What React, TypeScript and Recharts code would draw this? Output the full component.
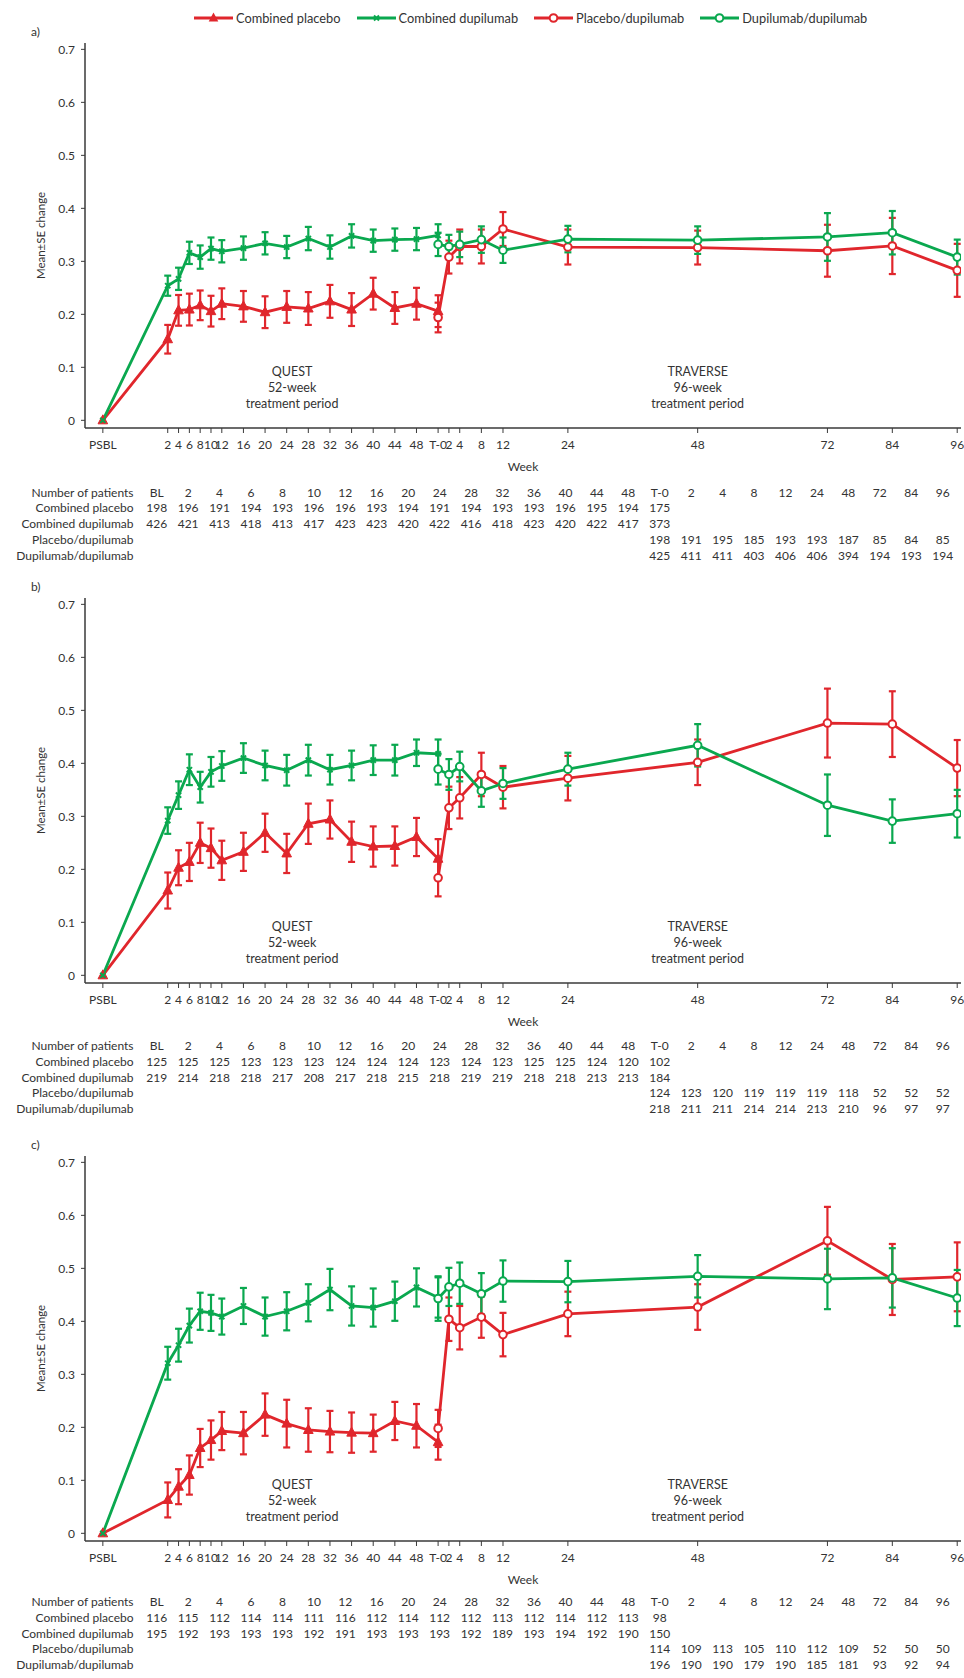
import React from 'react';
import { LineChart, Line, XAxis, YAxis, ErrorBar, ReferenceDot, Label } from 'recharts';

const RED = '#e0262c';
const GREEN = '#0aa84f';
const TEXT = '#333333';
const AXIS = '#3a3a3a';
const FONT = 'Lato, "Noto Sans", sans-serif';

// ---------- categories ----------
const questWeeks = ['PSBL', '2', '4', '6', '8', '10', '12', '16', '20', '24', '28', '32', '36', '40', '44', '48', 'T-0'];
const traverseWeeks = ['T-0', '2', '4', '8', '12', '24', '48', '72', '84', '96'];
const tableColumns = ['BL', '2', '4', '6', '8', '10', '12', '16', '20', '24', '28', '32', '36', '40', '44', '48', 'T-0', '2', '4', '8', '12', '24', '48', '72', '84', '96'];
const seriesNames = ['Combined placebo', 'Combined dupilumab', 'Placebo/dupilumab', 'Dupilumab/dupilumab'];
const yTicks = [0, 0.1, 0.2, 0.3, 0.4, 0.5, 0.6, 0.7];

// ---------- panel a ----------
const aCombinedPlacebo = [0, 0.153, 0.2075, 0.209, 0.217, 0.206, 0.22, 0.215, 0.204, 0.214, 0.211, 0.2245, 0.209, 0.239, 0.212, 0.22, 0.206];
const aCombinedPlaceboSE = [0, 0.027, 0.029, 0.03, 0.028, 0.029, 0.029, 0.029, 0.03, 0.03, 0.031, 0.031, 0.031, 0.03, 0.03, 0.03, 0.03];
const aCombinedDupilumab = [0, 0.254, 0.267, 0.316, 0.308, 0.324, 0.319, 0.325, 0.334, 0.327, 0.343, 0.327, 0.348, 0.339, 0.341, 0.342, 0.349];
const aCombinedDupilumabSE = [0, 0.019, 0.021, 0.021, 0.022, 0.021, 0.021, 0.022, 0.021, 0.021, 0.022, 0.022, 0.022, 0.021, 0.021, 0.021, 0.021];
const aPlaceboDupilumab = [0.194, 0.308, 0.328, 0.328, 0.361, 0.327, 0.326, 0.32, 0.329, 0.283];
const aPlaceboDupilumabSE = [0.028, 0.031, 0.032, 0.032, 0.032, 0.033, 0.032, 0.049, 0.053, 0.05];
const aDupilumabDupilumab = [0.332, 0.328, 0.332, 0.341, 0.321, 0.342, 0.34, 0.346, 0.354, 0.308];
const aDupilumabDupilumabSE = [0.022, 0.022, 0.024, 0.025, 0.024, 0.025, 0.026, 0.045, 0.041, 0.033];
const aNCombinedPlacebo = ['198', '196', '191', '194', '193', '196', '196', '193', '194', '191', '194', '193', '193', '196', '195', '194', '175'];
const aNCombinedDupilumab = ['426', '421', '413', '418', '413', '417', '423', '423', '420', '422', '416', '418', '423', '420', '422', '417', '373'];
const aNPlaceboDupilumab = ['198', '191', '195', '185', '193', '193', '187', '85', '84', '85'];
const aNDupilumabDupilumab = ['425', '411', '411', '403', '406', '406', '394', '194', '193', '194'];

// ---------- panel b ----------
const bCombinedPlacebo = [0, 0.16, 0.203, 0.214, 0.25, 0.24, 0.217, 0.233, 0.269, 0.23, 0.286, 0.294, 0.252, 0.243, 0.244, 0.261, 0.22];
const bCombinedPlaceboSE = [0, 0.034, 0.033, 0.036, 0.038, 0.037, 0.037, 0.036, 0.036, 0.037, 0.038, 0.036, 0.038, 0.038, 0.037, 0.036, 0.037];
const bCombinedDupilumab = [0, 0.292, 0.34, 0.388, 0.355, 0.384, 0.395, 0.41, 0.396, 0.387, 0.406, 0.388, 0.396, 0.406, 0.406, 0.42, 0.418];
const bCombinedDupilumabSE = [0, 0.025, 0.026, 0.029, 0.029, 0.028, 0.028, 0.028, 0.028, 0.029, 0.029, 0.028, 0.028, 0.028, 0.029, 0.025, 0.027];
const bPlaceboDupilumab = [0.184, 0.316, 0.335, 0.379, 0.355, 0.372, 0.402, 0.476, 0.474, 0.391];
const bPlaceboDupilumabSE = [0.035, 0.04, 0.039, 0.041, 0.04, 0.042, 0.043, 0.065, 0.062, 0.053];
const bDupilumabDupilumab = [0.389, 0.379, 0.394, 0.348, 0.362, 0.389, 0.434, 0.321, 0.291, 0.305];
const bDupilumabDupilumabSE = [0.029, 0.029, 0.028, 0.03, 0.029, 0.031, 0.04, 0.058, 0.041, 0.045];
const bNCombinedPlacebo = ['125', '125', '125', '123', '123', '123', '124', '124', '124', '123', '124', '123', '125', '125', '124', '120', '102'];
const bNCombinedDupilumab = ['219', '214', '218', '218', '217', '208', '217', '218', '215', '218', '219', '219', '218', '218', '213', '213', '184'];
const bNPlaceboDupilumab = ['124', '123', '120', '119', '119', '119', '118', '52', '52', '52'];
const bNDupilumabDupilumab = ['218', '211', '211', '214', '214', '213', '210', '96', '97', '97'];

// ---------- panel c ----------
const cCombinedPlacebo = [0, 0.063, 0.088, 0.11, 0.161, 0.176, 0.193, 0.189, 0.224, 0.207, 0.195, 0.192, 0.19, 0.189, 0.212, 0.203, 0.172];
const cCombinedPlaceboSE = [0, 0.033, 0.033, 0.037, 0.036, 0.037, 0.036, 0.04, 0.04, 0.045, 0.041, 0.039, 0.038, 0.035, 0.036, 0.041, 0.033];
const cCombinedDupilumab = [0, 0.321, 0.355, 0.392, 0.419, 0.416, 0.409, 0.429, 0.409, 0.419, 0.435, 0.46, 0.429, 0.426, 0.438, 0.464, 0.445];
const cCombinedDupilumabSE = [0, 0.031, 0.031, 0.032, 0.035, 0.034, 0.034, 0.034, 0.036, 0.036, 0.035, 0.039, 0.037, 0.036, 0.037, 0.036, 0.038];
const cPlaceboDupilumab = [0.198, 0.404, 0.388, 0.408, 0.375, 0.414, 0.427, 0.552, 0.479, 0.484];
const cPlaceboDupilumabSE = [0.035, 0.041, 0.041, 0.039, 0.041, 0.042, 0.043, 0.064, 0.067, 0.065];
const cDupilumabDupilumab = [0.443, 0.465, 0.472, 0.452, 0.476, 0.475, 0.485, 0.48, 0.482, 0.444];
const cDupilumabDupilumabSE = [0.042, 0.036, 0.039, 0.039, 0.039, 0.039, 0.04, 0.057, 0.056, 0.053];
const cNCombinedPlacebo = ['116', '115', '112', '114', '114', '111', '116', '112', '114', '112', '112', '113', '112', '114', '112', '113', '98'];
const cNCombinedDupilumab = ['195', '192', '193', '193', '193', '192', '191', '193', '193', '193', '192', '189', '193', '194', '192', '190', '150'];
const cNPlaceboDupilumab = ['114', '109', '113', '105', '110', '112', '109', '52', '50', '50'];
const cNDupilumabDupilumab = ['196', '190', '190', '179', '190', '185', '181', '93', '92', '94'];

// ---------- helpers ----------
function questPos(w: string): number {
  if (w === 'PSBL') return -10;
  if (w === 'T-0') return 52;
  return Number(w);
}
function traversePos(w: string): number {
  return w === 'T-0' ? 52 : 52 + Number(w);
}
const tickItems = [
  ...questWeeks.map((w) => ({ pos: questPos(w), label: w })),
  ...traverseWeeks.slice(1).map((w) => ({ pos: traversePos(w), label: w })),
];
const tickPositions = tickItems.map((t) => t.pos);
const tickLabel = (v: number) => {
  const t = tickItems.find((it) => Math.abs(it.pos - v) < 1e-6);
  return t ? t.label : '';
};

function buildRows(cp: number[], cpSE: number[], cd: number[], cdSE: number[], pd: number[], pdSE: number[], dd: number[], ddSE: number[]) {
  const map = new Map<number, any>();
  questWeeks.forEach((w, i) => {
    const p = questPos(w);
    const r = map.get(p) || { p };
    r.cp = cp[i];
    r.cpErr = cpSE[i] || null;
    r.cd = cd[i];
    r.cdErr = cdSE[i] || null;
    map.set(p, r);
  });
  traverseWeeks.forEach((w, i) => {
    const p = traversePos(w);
    const r = map.get(p) || { p };
    r.pd = pd[i];
    r.pdErr = pdSE[i];
    r.dd = dd[i];
    r.ddErr = ddSE[i];
    map.set(p, r);
  });
  return Array.from(map.values()).sort((a, b) => a.p - b.p);
}

// ---------- markers ----------
const TriangleDot = (props: any) => {
  const { cx, cy, index, value } = props;
  if (cx == null || cy == null || value == null) return <g key={`t-${index}`} />;
  return <polygon key={`t-${index}`} points={`${cx},${cy - 5.5} ${cx - 4.8},${cy + 3.5} ${cx + 4.8},${cy + 3.5}`} fill={RED} stroke={RED} strokeWidth={1} />;
};
const CrossDot = (props: any) => {
  const { cx, cy, index, value } = props;
  if (cx == null || cy == null || value == null) return <g key={`x-${index}`} />;
  const s = 2.6;
  return (
    <g key={`x-${index}`} stroke={GREEN} strokeWidth={2}>
      <line x1={cx - s} y1={cy - s} x2={cx + s} y2={cy + s} />
      <line x1={cx - s} y1={cy + s} x2={cx + s} y2={cy - s} />
    </g>
  );
};
const makeCircleDot = (color: string, prefix: string) => (props: any) => {
  const { cx, cy, index, value } = props;
  if (cx == null || cy == null || value == null) return <g key={`${prefix}-${index}`} />;
  return <circle key={`${prefix}-${index}`} cx={cx} cy={cy} r={3.8} fill="#ffffff" stroke={color} strokeWidth={2} />;
};
const RedCircle = makeCircleDot(RED, 'rc');
const GreenCircle = makeCircleDot(GREEN, 'gc');

const YLabel = (props: any) => {
  const vb = props.viewBox || {};
  const x = vb.x + 15;
  const y = vb.y + vb.height / 2;
  return (
    <text x={x} y={y} transform={`rotate(-90, ${x}, ${y})`} textAnchor="middle" dominantBaseline="central" fill={TEXT} fontSize={11.5} fontFamily={FONT}>
      Mean±SE change
    </text>
  );
};

const periodLabel = (lines: string[]) => (props: any) => {
  const vb = props.viewBox || {};
  const x = vb.x + (vb.width || 0) / 2;
  const y = vb.y + (vb.height || 0) / 2;
  return (
    <text textAnchor="middle" fill={TEXT} fontSize={12.5} fontFamily={FONT}>
      {lines.map((l, i) => (
        <tspan key={i} x={x} y={y + (i - 1) * 16} dominantBaseline="central">
          {l}
        </tspan>
      ))}
    </text>
  );
};

const LegendIcon = ({ color, kind }: { color: string; kind: string }) => (
  <svg width={39} height={12} style={{ display: 'block' }}>
    <line x1={0} y1={6} x2={39} y2={6} stroke={color} strokeWidth={3} />
    {kind === 'tri' && <polygon points="19.5,0.5 14.7,9.5 24.3,9.5" fill={color} />}
    {kind === 'x' && (
      <g stroke={color} strokeWidth={2}>
        <line x1={17} y1={3.5} x2={22} y2={8.5} />
        <line x1={17} y1={8.5} x2={22} y2={3.5} />
      </g>
    )}
    {kind === 'circle' && <circle cx={19.5} cy={6} r={3.8} fill="#fff" stroke={color} strokeWidth={2} />}
  </svg>
);

const legendItems = [
  { name: seriesNames[0], color: RED, kind: 'tri' },
  { name: seriesNames[1], color: GREEN, kind: 'x' },
  { name: seriesNames[2], color: RED, kind: 'circle' },
  { name: seriesNames[3], color: GREEN, kind: 'circle' },
];

const COL0 = 156.7;
const COLW = 31.44;

const PatientTable = ({ top, rows }: { top: number; rows: { label: string; values: string[]; start: number }[] }) => (
  <div style={{ position: 'absolute', left: 0, top, width: 964, fontFamily: FONT, fontSize: 12, color: TEXT }}>
    {rows.map((r, ri) => (
      <React.Fragment key={ri}>
        <div style={{ position: 'absolute', left: 0, width: 133.5, top: ri * 15.75 - 7, textAlign: 'right', lineHeight: '14px', whiteSpace: 'nowrap' }}>{r.label}</div>
        {r.values.map((v, ci) => (
          <div key={ci} style={{ position: 'absolute', left: COL0 + (r.start + ci) * COLW - 16, width: 32, top: ri * 15.75 - 7, textAlign: 'center', lineHeight: '14px' }}>
            {v}
          </div>
        ))}
      </React.Fragment>
    ))}
  </div>
);

type PanelProps = {
  top: number;
  tag: string;
  rows: any[];
  tableTop: number;
  nCP: string[];
  nCD: string[];
  nPD: string[];
  nDD: string[];
};

const Panel = ({ top, tag, rows, tableTop, nCP, nCD, nPD, nDD }: PanelProps) => (
  <div style={{ position: 'absolute', left: 0, top, width: 964, height: 560 }}>
    <div style={{ position: 'absolute', left: 31, top: 25, fontFamily: FONT, fontSize: 12, color: TEXT, lineHeight: '14px' }}>{tag}</div>
    <div style={{ position: 'absolute', left: 0, top: 0 }}>
      <LineChart width={964} height={478} data={rows} margin={{ top: 43, right: 3, left: 25, bottom: 0 }}>
        <XAxis
          dataKey="p"
          type="number"
          domain={[-13.3, 148.7]}
          ticks={tickPositions}
          interval={0}
          tickFormatter={tickLabel}
          height={50}
          tickSize={5}
          tickMargin={7}
          allowDataOverflow
          axisLine={{ stroke: AXIS, strokeWidth: 1.5 }}
          tickLine={{ stroke: AXIS, strokeWidth: 1 }}
          tick={{ fill: TEXT, fontSize: 12, fontFamily: FONT }}
        >
          <Label value="Week" position="insideBottom" offset={7} fill={TEXT} fontSize={12} fontFamily={FONT} />
        </XAxis>
        <YAxis
          type="number"
          domain={[-0.0145, 0.712]}
          ticks={yTicks}
          interval={0}
          allowDataOverflow
          width={60}
          tickSize={4}
          tickMargin={6}
          tickFormatter={(v: number) => (v === 0 ? '0' : v.toFixed(1))}
          axisLine={{ stroke: AXIS, strokeWidth: 1.5 }}
          tickLine={{ stroke: AXIS, strokeWidth: 1 }}
          tick={{ fill: TEXT, fontSize: 12, fontFamily: FONT }}
        >
          <Label content={YLabel} />
        </YAxis>
        <ReferenceDot x={25} y={0.062} r={0} fill="none" stroke="none" label={periodLabel(['QUEST', '52-week', 'treatment period'])} />
        <ReferenceDot x={traversePos('48')} y={0.062} r={0} fill="none" stroke="none" label={periodLabel(['TRAVERSE', '96-week', 'treatment period'])} />
        <Line dataKey="cp" name={seriesNames[0]} stroke={RED} strokeWidth={2.8} dot={TriangleDot} activeDot={false} isAnimationActive={false}>
          <ErrorBar dataKey="cpErr" width={3.5} strokeWidth={2.2} stroke={RED} direction="y" />
        </Line>
        <Line dataKey="cd" name={seriesNames[1]} stroke={GREEN} strokeWidth={2.8} dot={CrossDot} activeDot={false} isAnimationActive={false}>
          <ErrorBar dataKey="cdErr" width={3.5} strokeWidth={2.2} stroke={GREEN} direction="y" />
        </Line>
        <Line dataKey="pd" name={seriesNames[2]} stroke={RED} strokeWidth={2.8} dot={RedCircle} activeDot={false} isAnimationActive={false}>
          <ErrorBar dataKey="pdErr" width={3.5} strokeWidth={2.2} stroke={RED} direction="y" />
        </Line>
        <Line dataKey="dd" name={seriesNames[3]} stroke={GREEN} strokeWidth={2.8} dot={GreenCircle} activeDot={false} isAnimationActive={false}>
          <ErrorBar dataKey="ddErr" width={3.5} strokeWidth={2.2} stroke={GREEN} direction="y" />
        </Line>
      </LineChart>
    </div>
    <PatientTable
      top={tableTop}
      rows={[
        { label: 'Number of patients', values: tableColumns, start: 0 },
        { label: seriesNames[0], values: nCP, start: 0 },
        { label: seriesNames[1], values: nCD, start: 0 },
        { label: seriesNames[2], values: nPD, start: 16 },
        { label: seriesNames[3], values: nDD, start: 16 },
      ]}
    />
  </div>
);

export default function App() {
  const rowsA = buildRows(aCombinedPlacebo, aCombinedPlaceboSE, aCombinedDupilumab, aCombinedDupilumabSE, aPlaceboDupilumab, aPlaceboDupilumabSE, aDupilumabDupilumab, aDupilumabDupilumabSE);
  const rowsB = buildRows(bCombinedPlacebo, bCombinedPlaceboSE, bCombinedDupilumab, bCombinedDupilumabSE, bPlaceboDupilumab, bPlaceboDupilumabSE, bDupilumabDupilumab, bDupilumabDupilumabSE);
  const rowsC = buildRows(cCombinedPlacebo, cCombinedPlaceboSE, cCombinedDupilumab, cCombinedDupilumabSE, cPlaceboDupilumab, cPlaceboDupilumabSE, cDupilumabDupilumab, cDupilumabDupilumabSE);
  return (
    <div style={{ position: 'absolute', left: 0, top: 0, width: 964, height: 1678, background: '#ffffff', overflow: 'hidden' }}>
      <div style={{ position: 'absolute', left: 194, top: 11, display: 'flex', alignItems: 'center', fontFamily: FONT, fontSize: 12.8, color: TEXT, lineHeight: '14px', whiteSpace: 'nowrap' }}>
        {legendItems.map((it, i) => (
          <div key={i} style={{ display: 'flex', alignItems: 'center', marginRight: 16 }}>
            <LegendIcon color={it.color} kind={it.kind} />
            <span style={{ marginLeft: 3 }}>{it.name}</span>
          </div>
        ))}
      </div>
      <Panel top={0} tag="a)" rows={rowsA} tableTop={492.7} nCP={aNCombinedPlacebo} nCD={aNCombinedDupilumab} nPD={aNPlaceboDupilumab} nDD={aNDupilumabDupilumab} />
      <Panel top={555} tag="b)" rows={rowsB} tableTop={491} nCP={bNCombinedPlacebo} nCD={bNCombinedDupilumab} nPD={bNPlaceboDupilumab} nDD={bNDupilumabDupilumab} />
      <Panel top={1113} tag="c)" rows={rowsC} tableTop={489} nCP={cNCombinedPlacebo} nCD={cNCombinedDupilumab} nPD={cNPlaceboDupilumab} nDD={cNDupilumabDupilumab} />
    </div>
  );
}
